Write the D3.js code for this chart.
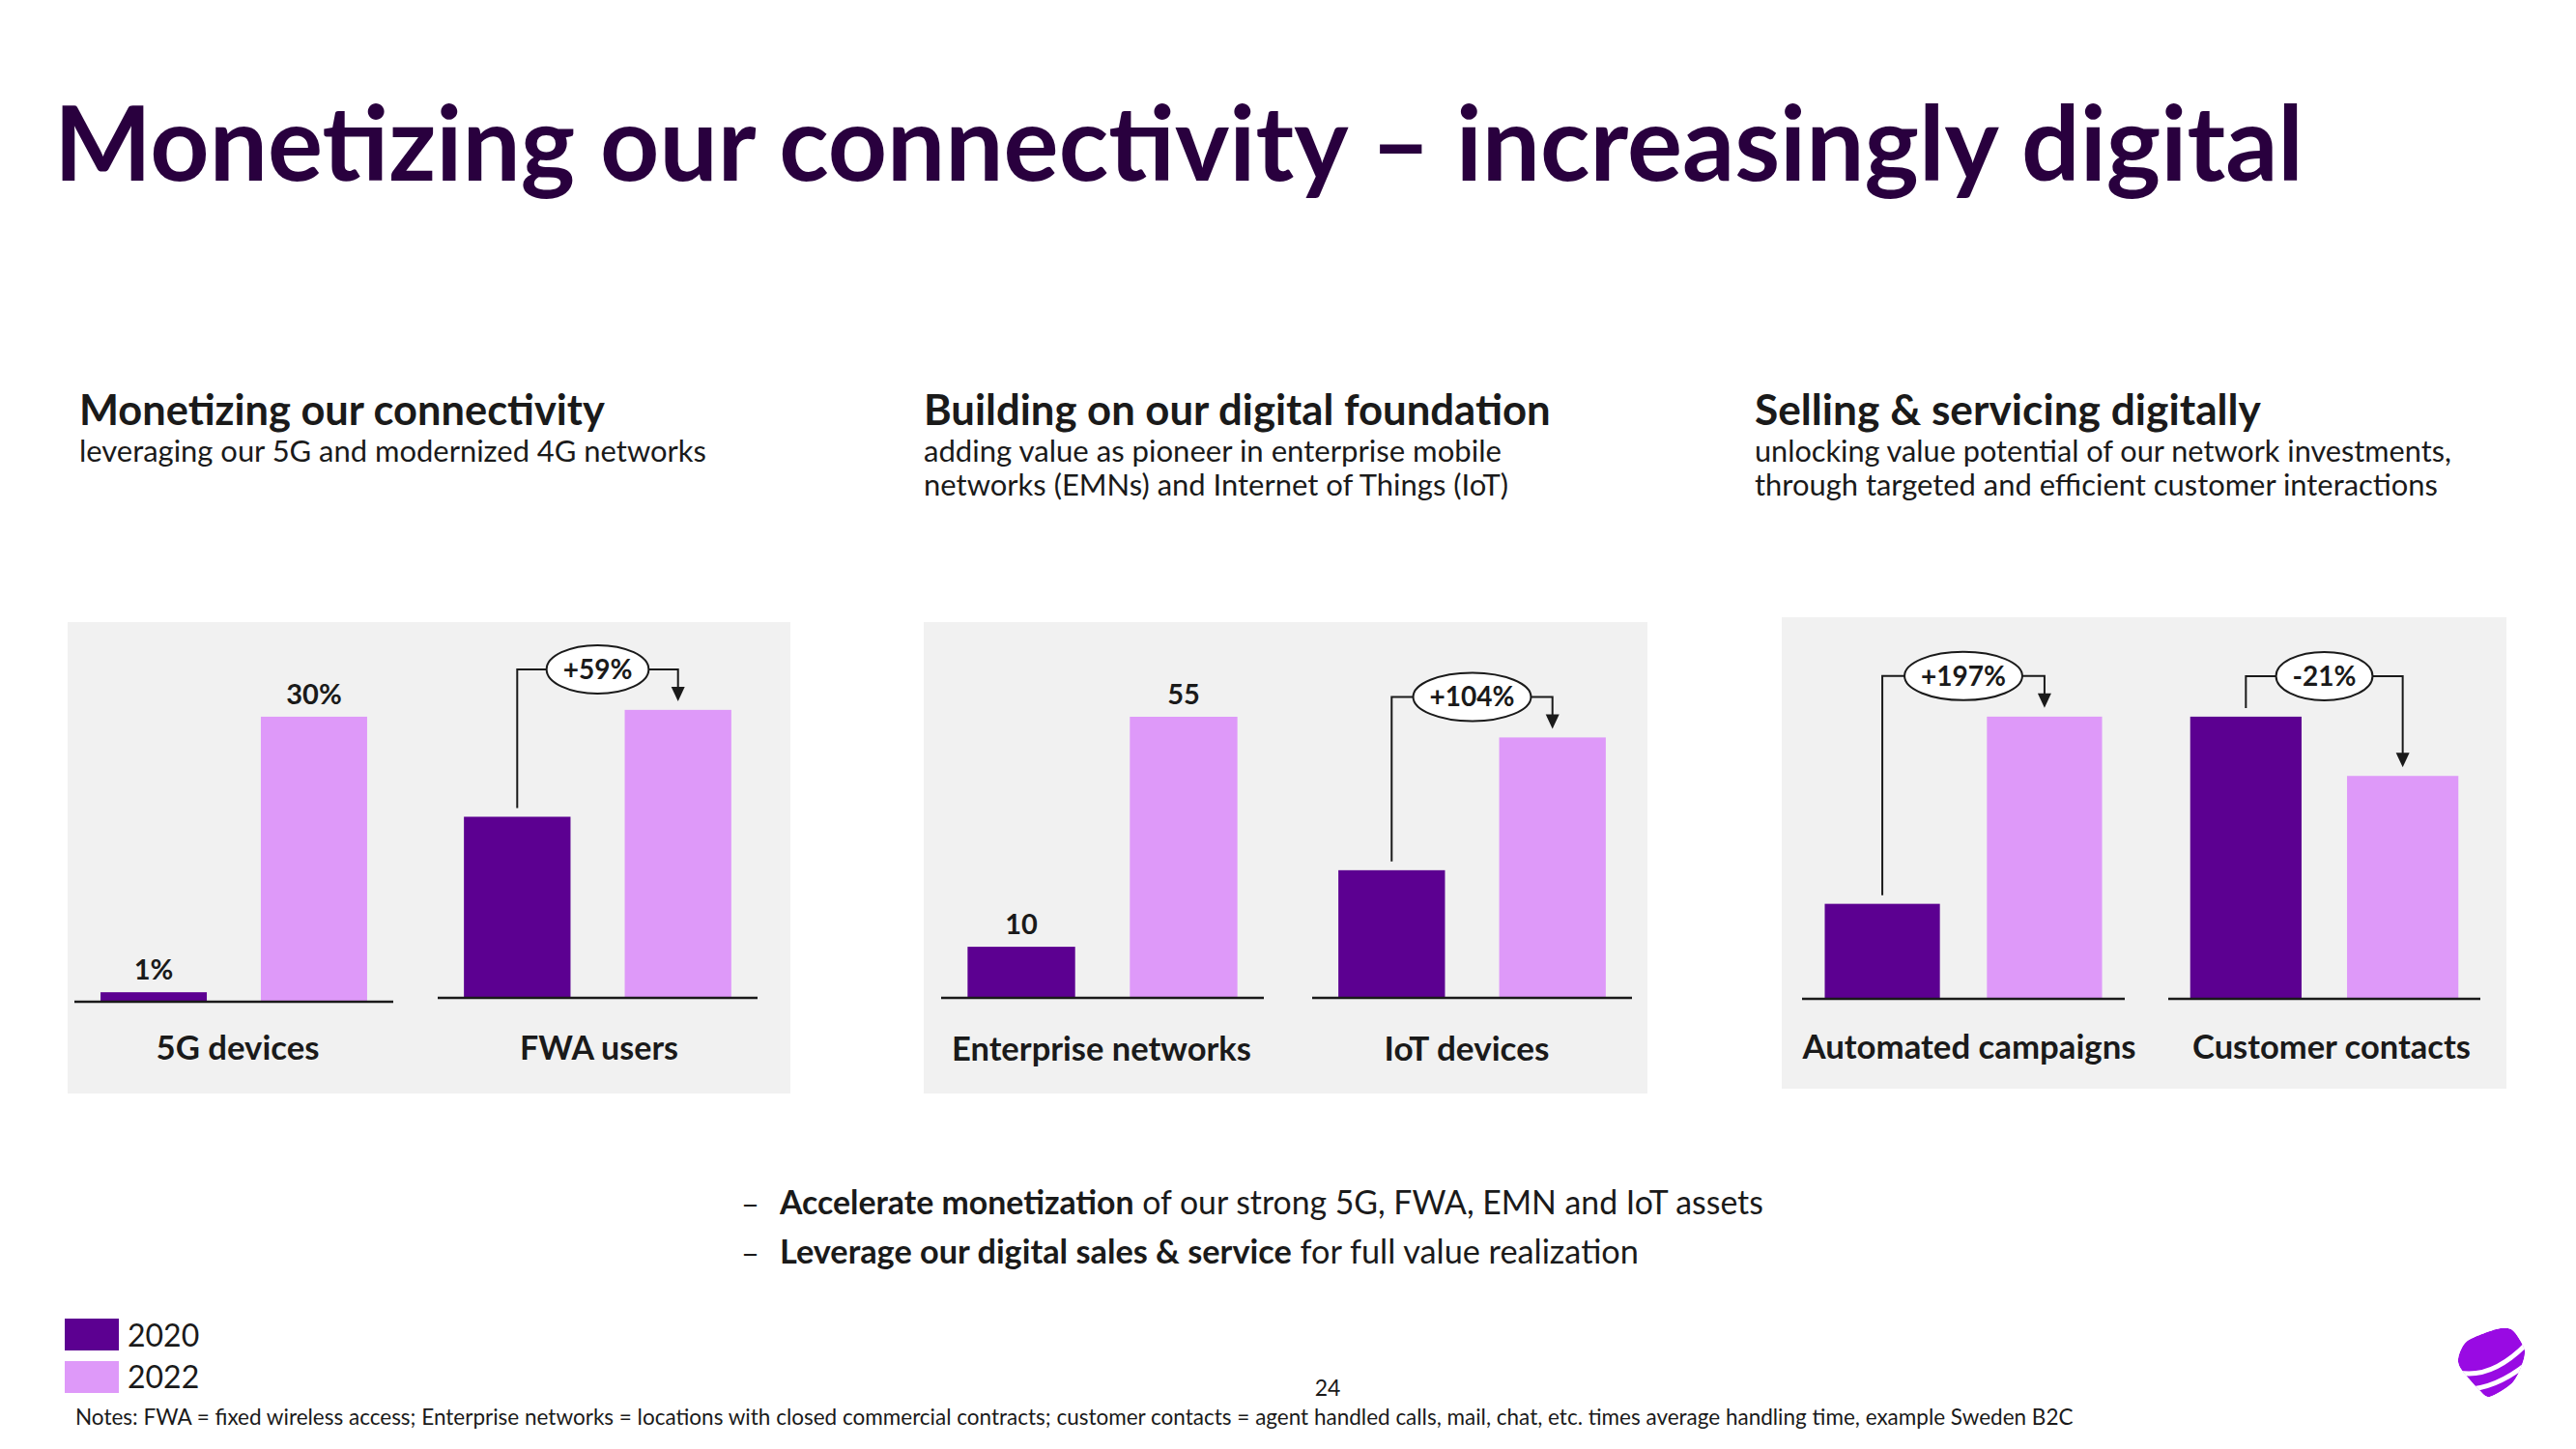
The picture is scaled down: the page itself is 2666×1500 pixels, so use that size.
<!DOCTYPE html>
<html>
<head>
<meta charset="utf-8">
<script src="https://cdn.jsdelivr.net/npm/d3@7/dist/d3.min.js"></script>
<style>
  html, body { margin: 0; padding: 0; background: #ffffff; }
  svg { display: block; }
  text { font-family: Lato, "Open Sans", "Noto Sans", sans-serif; }
</style>
</head>
<body>
<script>
// ---------------- DATA ----------------
const pageTitle = "Monetizing our connectivity \u2013 increasingly digital";
const sectionTitles = ["Monetizing our connectivity", "Building on our digital foundation", "Selling & servicing digitally"];
const sectionSubtitles = [
  ["leveraging our 5G and modernized 4G networks"],
  ["adding value as pioneer in enterprise mobile", "networks (EMNs) and Internet of Things (IoT)"],
  ["unlocking value potential of our network investments,", "through targeted and efficient customer interactions"]
];
const categories = ["5G devices", "FWA users", "Enterprise networks", "IoT devices", "Automated campaigns", "Customer contacts"];
const seriesNames = ["2020", "2022"];
// 5G share (%), EN count; others indexed to 2020 = 100 from the printed change
const values2020 = [1, 100, 10, 100, 100, 100];
const values2022 = [30, 159, 55, 204, 297, 79];
const labels2020 = ["1%", null, "10", null, null, null];
const labels2022 = ["30%", null, "55", null, null, null];
const changeLabels = [null, "+59%", null, "+104%", "+197%", "-21%"];
const bulletBold = ["Accelerate monetization", "Leverage our digital sales & service"];
const bulletRest = [" of our strong 5G, FWA, EMN and IoT assets", " for full value realization"];
const notesText = "Notes: FWA = fixed wireless access; Enterprise networks = locations with closed commercial contracts; customer contacts = agent handled calls, mail, chat, etc. times average handling time, example Sweden B2C";
const pageNumber = "24";

// ---------------- LAYOUT / STYLE ----------------
const W = 2666, H = 1500;
const colors = { "2020": "#5c0091", "2022": "#de99f9" };
const titleColor = "#29003e";
const ink = "#1a1a1a";
const panelBg = "#f1f1f1";
const panels = [
  { x: 70, y: 644, w: 748, h: 488 },
  { x: 956, y: 644, w: 749, h: 488 },
  { x: 1844, y: 639, w: 750, h: 488 }
];
const sectionX = [82, 956, 1816];
const sectionTitleW = [544, 649, 524];
const sectionSubW = [[649], [598, 605], [721, 707]];
const chartLayout = [
  { x0: 77,   x1: 407,  base: 1037, dmax: 30.5,  inner: 0.337, outer: 0.163, labelY: 1097, labelX: 246,  labelW: 169 },
  { x0: 453,  x1: 784,  base: 1033, dmax: 160,   inner: 0.337, outer: 0.163, labelY: 1097, labelX: 620,  labelW: 164 },
  { x0: 974,  x1: 1308, base: 1033, dmax: 56.7,  inner: 0.337, outer: 0.163, labelY: 1098, labelX: 1140, labelW: 310 },
  { x0: 1358, x1: 1689, base: 1033, dmax: 227,   inner: 0.337, outer: 0.163, labelY: 1098, labelX: 1518, labelW: 171 },
  { x0: 1865, x1: 2199, base: 1034, dmax: 305,   inner: 0.29,  outer: 0.14,  labelY: 1096, labelX: 2038, labelW: 345 },
  { x0: 2244, x1: 2567, base: 1034, dmax: 102.7, inner: 0.29,  outer: 0.14,  labelY: 1096, labelX: 2413, labelW: 288 }
];
const plotH = 300;

const svg = d3.select("body").append("svg").attr("width", W).attr("height", H);

function fitWidth(sel, target) {
  const fs = parseFloat(sel.attr("font-size"));
  const w = sel.node().getComputedTextLength();
  if (w > 0) sel.attr("font-size", (fs * target / w).toFixed(2));
  return sel;
}

// Title
fitWidth(svg.append("text").attr("x", 56).attr("y", 187)
  .attr("font-size", 95).attr("font-weight", 700).attr("fill", titleColor)
  .text(pageTitle), 2328);

// Section headers
sectionTitles.forEach((t, i) => {
  fitWidth(svg.append("text").attr("x", sectionX[i]).attr("y", 440)
    .attr("font-size", 39).attr("font-weight", 700).attr("fill", ink).text(t), sectionTitleW[i]);
  sectionSubtitles[i].forEach((s, j) => {
    fitWidth(svg.append("text").attr("x", sectionX[i]).attr("y", 478 + j * 35)
      .attr("font-size", 28).attr("font-weight", 400).attr("fill", ink).text(s), sectionSubW[i][j]);
  });
});

// Panels
svg.append("g").selectAll("rect").data(panels).join("rect")
  .attr("x", d => d.x).attr("y", d => d.y).attr("width", d => d.w).attr("height", d => d.h)
  .attr("fill", panelBg);

// Charts
categories.forEach((cat, i) => {
  const L = chartLayout[i];
  const g = svg.append("g");
  const x = d3.scaleBand().domain(seriesNames).range([L.x0, L.x1])
    .paddingInner(L.inner).paddingOuter(L.outer);
  const y = d3.scaleLinear().domain([0, L.dmax]).range([L.base, L.base - plotH]);
  const vals = [values2020[i], values2022[i]];
  const labs = [labels2020[i], labels2022[i]];
  const data = seriesNames.map((s, k) => ({ s, v: vals[k], lab: labs[k] }));

  g.selectAll("rect.bar").data(data).join("rect").attr("class", "bar")
    .attr("x", d => x(d.s)).attr("width", x.bandwidth())
    .attr("y", d => y(d.v)).attr("height", d => y(0) - y(d.v))
    .attr("fill", d => colors[d.s]);

  // baseline axis
  const axis = d3.axisBottom(x).tickSize(0).tickFormat("");
  const ag = g.append("g").attr("transform", `translate(0,${L.base})`).call(axis);
  ag.select(".domain").attr("stroke", ink).attr("stroke-width", 2.5)
    .attr("d", `M${L.x0},0H${L.x1}`);
  ag.selectAll(".tick").remove();

  // value labels
  g.selectAll("text.val").data(data.filter(d => d.lab)).join("text").attr("class", "val")
    .attr("x", d => x(d.s) + x.bandwidth() / 2).attr("y", d => y(d.v) - 13)
    .attr("text-anchor", "middle").attr("font-size", 29).attr("font-weight", 700)
    .attr("fill", ink).text(d => d.lab);

  // category label
  fitWidth(g.append("text").attr("x", L.labelX).attr("y", L.labelY)
    .attr("text-anchor", "middle").attr("font-size", 32).attr("font-weight", 700)
    .attr("fill", ink).text(cat), L.labelW);

  // change annotation
  if (changeLabels[i]) {
    const cx0 = x("2020") + x.bandwidth() / 2;
    const cx1 = x("2022") + x.bandwidth() / 2;
    const t0 = y(vals[0]), t1 = y(vals[1]);
    const by = Math.min(t0, t1) - 42;
    const ecx = (cx0 + cx1) / 2;
    const ann = g.append("g");
    const lbl = g.append("text").attr("x", ecx).attr("y", by + 10)
      .attr("text-anchor", "middle").attr("font-size", 28).attr("font-weight", 700)
      .attr("fill", ink).text(changeLabels[i]);
    const tw = lbl.node().getComputedTextLength();
    const rx = tw / 2 + 17, ry = 25;
    const tipY = t1 - 9;
    ann.append("path")
      .attr("d", `M${cx0},${t0 - 9}V${by}H${ecx - rx}M${ecx + rx},${by}H${cx1}V${tipY - 14}`)
      .attr("fill", "none").attr("stroke", ink).attr("stroke-width", 2);
    ann.append("path")
      .attr("d", `M${cx1 - 7},${tipY - 15}L${cx1 + 7},${tipY - 15}L${cx1},${tipY}Z`)
      .attr("fill", ink);
    ann.append("ellipse").attr("cx", ecx).attr("cy", by).attr("rx", rx).attr("ry", ry)
      .attr("fill", "#ffffff").attr("stroke", ink).attr("stroke-width", 2);
  }
});

// Bullets
const bulletW = [1018, 889];
bulletBold.forEach((b, i) => {
  const yy = 1257 + i * 51;
  svg.append("text").attr("x", 767).attr("y", yy).attr("font-size", 29).attr("fill", ink)
    .attr("textLength", 19).attr("lengthAdjust", "spacingAndGlyphs").text("\u2013");
  const t = svg.append("text").attr("x", 807).attr("y", yy).attr("font-size", 29).attr("fill", ink);
  t.append("tspan").attr("font-weight", 700).text(b);
  t.append("tspan").attr("font-weight", 400).text(bulletRest[i]);
  fitWidth(t, bulletW[i]);
});

// Legend
seriesNames.forEach((s, i) => {
  svg.append("rect").attr("x", 67).attr("y", 1365 + i * 44).attr("width", 56).attr("height", 33)
    .attr("fill", colors[s]);
  svg.append("text").attr("x", 132).attr("y", 1394 + i * 43).attr("font-size", 32)
    .attr("fill", ink).text(s);
});

// Page number
svg.append("text").attr("x", 1374).attr("y", 1445).attr("text-anchor", "middle")
  .attr("font-size", 23).attr("fill", ink).text(pageNumber);

// Notes
fitWidth(svg.append("text").attr("x", 78).attr("y", 1475).attr("font-size", 19)
  .attr("fill", ink).text(notesText), 2068);

// Logo (Telia pebble)
const logo = svg.append("g").attr("transform", "translate(2544,1375)");
const eggPts = [[56, 1.7], [68.7, 21.7], [66, 38], [56, 56.7], [32.7, 71], [21, 63], [2.7, 41.7], [0.3, 30], [9.3, 13.3], [39.3, 1]];
const eggPath = d3.line().curve(d3.curveCardinalClosed.tension(0.2))(eggPts);
logo.append("clipPath").attr("id", "eggclip").append("path").attr("d", eggPath);
const lg = logo.append("g").attr("clip-path", "url(#eggclip)");
lg.append("path").attr("d", eggPath).attr("fill", "#990ae3");
lg.append("path").attr("d", "M0,46 Q35.5,53 72,15").attr("fill", "none").attr("stroke", "#fff").attr("stroke-width", 5);
lg.append("path").attr("d", "M8,63 Q38.5,63 72,36").attr("fill", "none").attr("stroke", "#fff").attr("stroke-width", 5);
</script>
</body>
</html>
